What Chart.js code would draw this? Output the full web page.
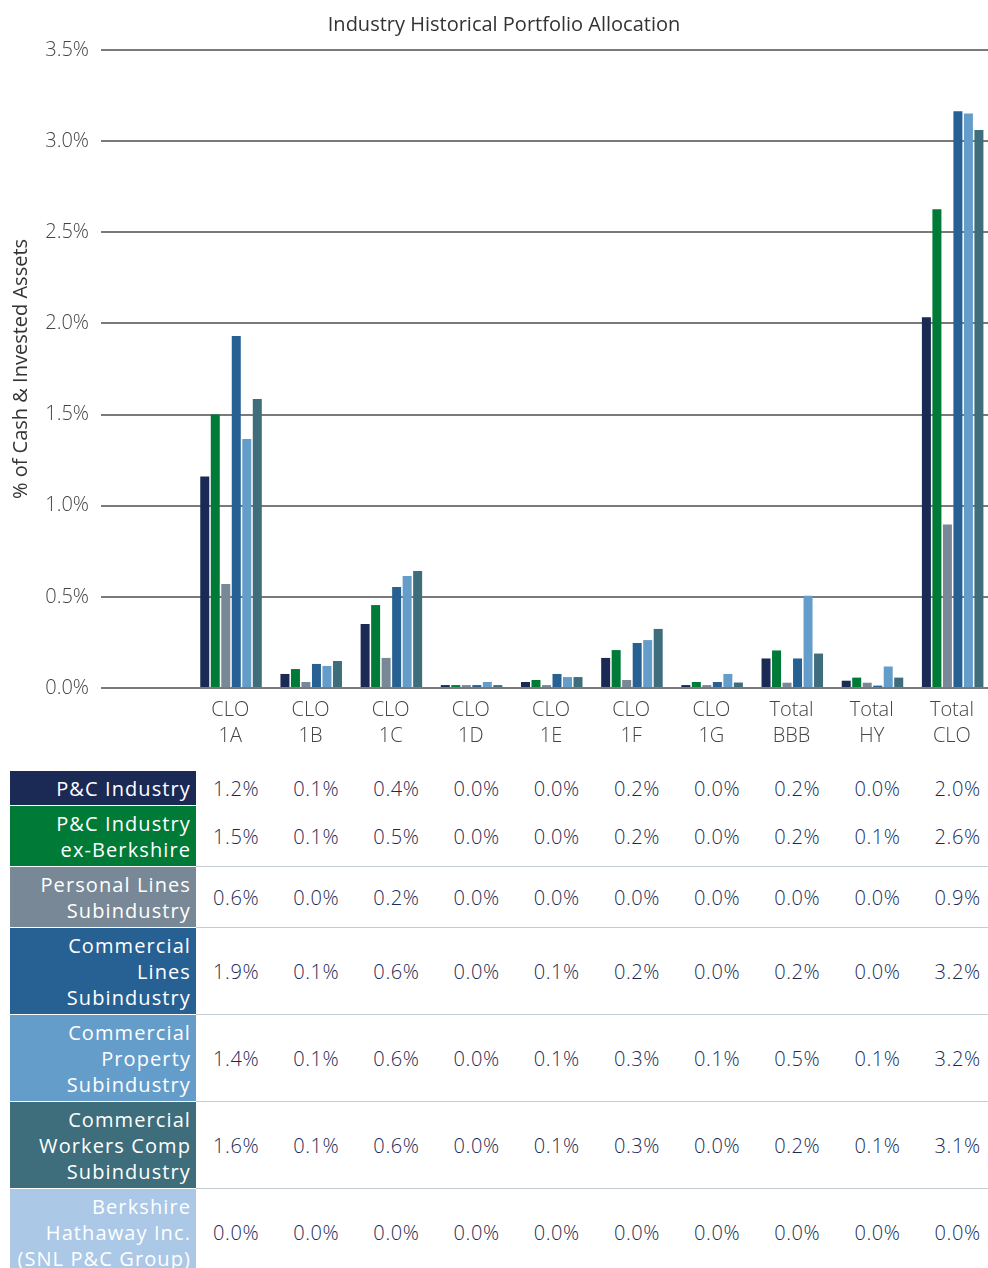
<!DOCTYPE html>
<html>
<head>
<meta charset="utf-8">
<script src="https://cdn.jsdelivr.net/npm/chart.js@4.4.1/dist/chart.umd.min.js"></script>
<style>
html,body{margin:0;padding:0;background:#fff;}
body{width:988px;height:1268px;overflow:hidden;position:relative;font-family:'Open Sans',sans-serif;}
#wrap{position:absolute;left:0;top:0;width:1008px;height:760px;}
#tbl{position:absolute;left:10px;top:770px;border-collapse:separate;border-spacing:0;table-layout:fixed;width:987.8px;}
#tbl td{font-size:20px;line-height:26px;padding:5px 0 3px 0;white-space:nowrap;vertical-align:middle;box-sizing:border-box;font-weight:300;letter-spacing:0.6px;}
#tbl td.lab{text-align:right;padding-right:5px;color:#fff;border-top:1px solid #fff;font-weight:400;letter-spacing:1.1px;}
#tbl td.val{text-align:center;color:#1b2a55;border-top:1px solid #fff;}
#tbl tr.sep td.val{border-top-color:#c3cbd3;}
</style>
</head>
<body>
<div id="wrap"><canvas id="c" width="1008" height="760"></canvas></div>
<table id="tbl"></table>
<script>
// ---- data ----
const chartTitle = 'Industry Historical Portfolio Allocation';
const yAxisTitle = '% of Cash & Invested Assets';
const categories = [['CLO','1A'],['CLO','1B'],['CLO','1C'],['CLO','1D'],['CLO','1E'],['CLO','1F'],['CLO','1G'],['Total','BBB'],['Total','HY'],['Total','CLO']];
const seriesNames = [
  ['P&C Industry'],
  ['P&C Industry','ex-Berkshire'],
  ['Personal Lines','Subindustry'],
  ['Commercial','Lines','Subindustry'],
  ['Commercial','Property','Subindustry'],
  ['Commercial','Workers Comp','Subindustry'],
  ['Berkshire','Hathaway Inc.','(SNL P&C Group)']
];
const seriesColors = ['#1b2a55','#007a37','#788896','#276193','#659dca','#3e6d7c','#abc8e7'];
const pcIndustry        = [1.16, 0.077, 0.351, 0.016, 0.033, 0.165, 0.016, 0.162, 0.040, 2.034];
const pcExBerkshire     = [1.50, 0.104, 0.455, 0.016, 0.044, 0.208, 0.033, 0.206, 0.057, 2.626];
const personalLines     = [0.570, 0.033, 0.165, 0.016, 0.016, 0.044, 0.016, 0.029, 0.029, 0.897];
const commercialLines   = [1.931, 0.132, 0.554, 0.016, 0.077, 0.247, 0.033, 0.162, 0.013, 3.164];
const commercialProperty= [1.366, 0.121, 0.614, 0.033, 0.060, 0.263, 0.077, 0.506, 0.118, 3.152];
const workersComp       = [1.585, 0.148, 0.642, 0.016, 0.060, 0.324, 0.030, 0.189, 0.057, 3.061];
const berkshire         = [0, 0, 0, 0, 0, 0, 0, 0, 0, 0];
const seriesValues = [pcIndustry, pcExBerkshire, personalLines, commercialLines, commercialProperty, workersComp, berkshire];
const yTicks = [0, 0.5, 1.0, 1.5, 2.0, 2.5, 3.0, 3.5];

const FONT = '"Open Sans", sans-serif';

// spacer category at left (space above the table's label column)
const labels = [''].concat(categories);
const datasets = seriesValues.map((vals, i) => ({
  label: seriesNames[i].join(' '),
  data: [null].concat(vals),
  backgroundColor: seriesColors[i],
  borderWidth: 0,
  categoryPercentage: 0.917,
  barPercentage: 0.857
}));

const spacing = {
  id: 'spacing',
  beforeInit(chart) { chart.ctx.letterSpacing = '0.7px'; }
};

new Chart(document.getElementById('c'), {
  type: 'bar',
  data: { labels, datasets },
  plugins: [spacing],
  options: {
    responsive: false,
    devicePixelRatio: 1,
    animation: false,
    events: [],
    layout: { padding: { left: 10, right: 10, top: 0, bottom: 0 } },
    plugins: {
      legend: { display: false },
      tooltip: { enabled: false },
      title: {
        display: true,
        text: chartTitle,
        color: '#333',
        font: { family: FONT, size: 20, weight: 'normal', lineHeight: 1.2 },
        padding: { top: 13, bottom: 13 }
      }
    },
    scales: {
      x: {
        grid: { display: false, drawTicks: false },
        border: { display: false },
        ticks: {
          color: '#444',
          font: { family: FONT, size: 20, weight: 300, lineHeight: 1.3 },
          padding: 9,
          labelOffset: -6,
          maxRotation: 0,
          autoSkip: false
        },
        afterFit: s => { s.height = 72; }
      },
      y: {
        min: 0, max: 3.5,
        afterBuildTicks: s => { s.ticks = yTicks.map(v => ({ value: v })); },
        grid: { color: '#7a7a7a', lineWidth: 2, tickLength: 15, drawTicks: true },
        border: { display: false },
        ticks: {
          color: '#444',
          font: { family: FONT, size: 20, weight: 300 },
          padding: 12,
          callback: v => Number(v).toFixed(1) + '%'
        },
        title: {
          display: true,
          text: yAxisTitle,
          color: '#333',
          font: { family: FONT, size: 20, lineHeight: 1.0 },
          padding: { top: 1, bottom: 0 }
        },
        afterFit: s => { s.width = 106; }
      }
    }
  }
});

// ---- data table below the chart ----
const tbl = document.getElementById('tbl');
let html = '<colgroup><col style="width:186px">';
for (let j = 0; j < categories.length; j++) html += '<col style="width:80.18px">';
html += '</colgroup>';
seriesValues.forEach((vals, i) => {
  html += '<tr class="' + (i >= 2 ? 'sep' : '') + '">';
  html += '<td class="lab" style="background:' + seriesColors[i] + '">' +
    seriesNames[i].map(s => s.replace(/&/g, '&amp;')).join('<br>') + '</td>';
  vals.forEach(v => { html += '<td class="val">' + v.toFixed(1) + '%</td>'; });
  html += '</tr>';
});
tbl.innerHTML = html;
</script>
</body>
</html>
